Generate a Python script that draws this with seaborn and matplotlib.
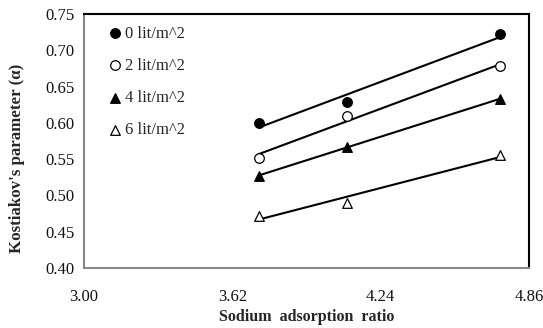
import pandas as pd
import seaborn as sns
import matplotlib.pyplot as plt

# Sodium adsorption ratio (x) and Kostiakov's alpha for each application rate
sar = [3.73, 4.10, 4.74]
labels = ["0 lit/m^2", "2 lit/m^2", "4 lit/m^2", "6 lit/m^2"]
alpha_0 = [0.600, 0.629, 0.722]
alpha_2 = [0.552, 0.610, 0.678]
alpha_4 = [0.527, 0.567, 0.633]
alpha_6 = [0.472, 0.490, 0.556]
x_ticks = [3.00, 3.62, 4.24, 4.86]
y_ticks = [0.40, 0.45, 0.50, 0.55, 0.60, 0.65, 0.70, 0.75]

series = [alpha_0, alpha_2, alpha_4, alpha_6]
df = pd.DataFrame({
    "SAR": sar * len(series),
    "alpha": [v for s in series for v in s],
    "Rate": [lab for lab in labels for _ in sar],
})

sns.set_theme(style="white")
plt.rcParams["font.family"] = ["Liberation Serif", "DejaVu Serif"]

fig = plt.figure(figsize=(5.43, 3.28), dpi=100)
ax = fig.add_axes([84 / 543, 1 - 268 / 328, 445 / 543, 254 / 328])

markers = ["o", "o", "^", "^"]
faces = ["black", "white", "black", "white"]

# trend lines
for lab in labels:
    sub = df[df["Rate"] == lab]
    sns.regplot(data=sub, x="SAR", y="alpha", ax=ax, scatter=False, ci=None,
                truncate=True, color="black", line_kws={"linewidth": 1.5})

# points
for lab, m, fc in zip(labels, markers, faces):
    sub = df[df["Rate"] == lab]
    ax.scatter(sub["SAR"], sub["alpha"], marker=m, s=48, facecolor=fc,
               edgecolor="black", linewidth=0.9, zorder=3, label=lab)

ax.set_xlim(3.00, 4.86)
ax.set_ylim(0.40, 0.75)
ax.set_xticks(x_ticks)
ax.set_xticklabels([f"{v:.2f}" for v in x_ticks])
ax.set_yticks(y_ticks)
ax.set_yticklabels([f"{v:.2f}" for v in y_ticks])
ax.tick_params(axis="both", labelsize=12, colors="#888888", labelcolor="#111111",
               length=4, width=1, direction="out")
ax.tick_params(axis="x", pad=11)
ax.tick_params(axis="y", pad=3)

for side in ["left", "bottom"]:
    ax.spines[side].set_color("#888888")
    ax.spines[side].set_linewidth(1.5)
for side in ["top", "right"]:
    ax.spines[side].set_color("black")
    ax.spines[side].set_linewidth(1.5)

ax.set_xlabel("Sodium  adsorption  ratio", fontsize=11.5, fontweight="bold")
ax.xaxis.set_label_coords(0.5, -0.162)
ax.set_ylabel("Kostiakov's parameter (α)", fontsize=12.2, fontweight="bold")
ax.yaxis.set_label_coords(-0.133, 0.433)

ax.legend(loc="upper left", frameon=False, fontsize=12, handletextpad=0.0,
          labelspacing=0.97, borderaxespad=0.3, handlelength=1.2,
          bbox_to_anchor=(0.02, 1.0))

fig.savefig("out.png", dpi=100)
